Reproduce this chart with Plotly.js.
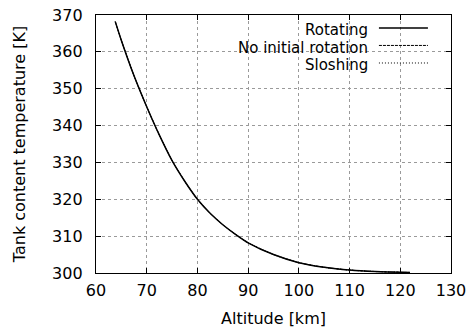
<!DOCTYPE html>
<html>
<head>
<meta charset="utf-8">
<script src="https://cdn.plot.ly/plotly-3.0.1.min.js"></script>
<style>html,body{margin:0;padding:0;background:#fff;}#chart{width:469px;height:333px;}</style>
</head>
<body>
<div id="chart"></div>
<script>
// Data
const altitude = [63.8, 65, 67.5, 70, 72.5, 75, 77.5, 80, 82.5, 85, 87.5, 90, 95, 100, 105, 110, 115, 120, 121.9];
const tempRotating = [368.2, 363.1, 353.5, 345.1, 337.4, 330.5, 324.9, 320.0, 316.2, 313.1, 310.5, 308.2, 305.0, 302.8, 301.55, 300.8, 300.4, 300.2, 300.15];
const tempNoInitialRotation = [368.2, 363.1, 353.5, 345.1, 337.4, 330.5, 324.9, 320.0, 316.2, 313.1, 310.5, 308.2, 305.0, 302.8, 301.55, 300.8, 300.4, 300.2, 300.15];
const tempSloshing = [368.2, 363.1, 353.5, 345.1, 337.4, 330.5, 324.9, 320.0, 316.2, 313.1, 310.5, 308.2, 305.0, 302.8, 301.55, 300.8, 300.4, 300.2, 300.15];
const seriesNames = ["Rotating", "No initial rotation", "Sloshing"];
const xTicks = [60, 70, 80, 90, 100, 110, 120, 130];
const yTicks = [300, 310, 320, 330, 340, 350, 360, 370];

const FONT = "DejaVu Sans, sans-serif";
const FS = 16;
const LFS = 15;
const dashes = ["solid", "3px,1px", "1px,2px"];
const widths = [1.5, 1, 1];
const ys = [tempRotating, tempNoInitialRotation, tempSloshing];

const traces = ys.map((y, i) => ({
  x: altitude, y: y, type: "scatter", mode: "lines", name: seriesNames[i],
  line: {color: "#000", width: widths[i], dash: dashes[i], shape: "spline", smoothing: 0.6},
  showlegend: false, hoverinfo: "skip"
}));

// custom gnuplot-style legend (text left of sample)
const legTextX = 0.771, legLineX0 = 0.797, legLineX1 = 0.935;
const legTextY = [0.942, 0.874, 0.806];
const legLineY = [0.950, 0.882, 0.814];
const annotations = seriesNames.map((n, i) => ({
  xref: "paper", yref: "paper", x: legTextX, y: legTextY[i], xanchor: "right", yanchor: "middle",
  text: n, showarrow: false, font: {family: FONT, size: LFS, color: "#000"}
}));
const shapes = [{
  type: "rect", xref: "paper", yref: "paper", x0: 0.16, x1: 0.969, y0: 0.764, y1: 1,
  fillcolor: "#fff", line: {width: 0}, layer: "between"
}].concat(seriesNames.map((n, i) => ({
  type: "line", xref: "paper", yref: "paper", x0: legLineX0, x1: legLineX1, y0: legLineY[i], y1: legLineY[i],
  line: {color: "#000", width: widths[i], dash: dashes[i]}
})));

const axisCommon = {
  showline: true, linecolor: "#000", linewidth: 1.2, mirror: "ticks",
  ticks: "inside", ticklen: 5, tickwidth: 1, tickcolor: "#000",
  showgrid: true, gridcolor: "#9a9a9a", griddash: "dot", gridwidth: 1,
  zeroline: false, tickfont: {family: FONT, size: FS, color: "#000"}
};

const layout = {
  width: 469, height: 333,
  margin: {l: 96, r: 18, t: 15, b: 60},
  paper_bgcolor: "#fff", plot_bgcolor: "#fff",
  showlegend: false,
  xaxis: Object.assign({}, axisCommon, {
    range: [60, 130], tickvals: xTicks, ticktext: xTicks.map(String),
    ticklabelstandoff: 3,
    title: {text: "Altitude [km]", font: {family: FONT, size: FS, color: "#000"}, standoff: 13}
  }),
  yaxis: Object.assign({}, axisCommon, {
    range: [300, 370], tickvals: yTicks, ticktext: yTicks.map(String),
    ticklabelstandoff: 9,
    title: {text: "Tank content temperature [K]", font: {family: FONT, size: FS, color: "#000"}, standoff: 22}
  }),
  annotations: annotations, shapes: shapes
};

Plotly.newPlot("chart", traces, layout, {staticPlot: true, displayModeBar: false});
</script>
</body>
</html>
